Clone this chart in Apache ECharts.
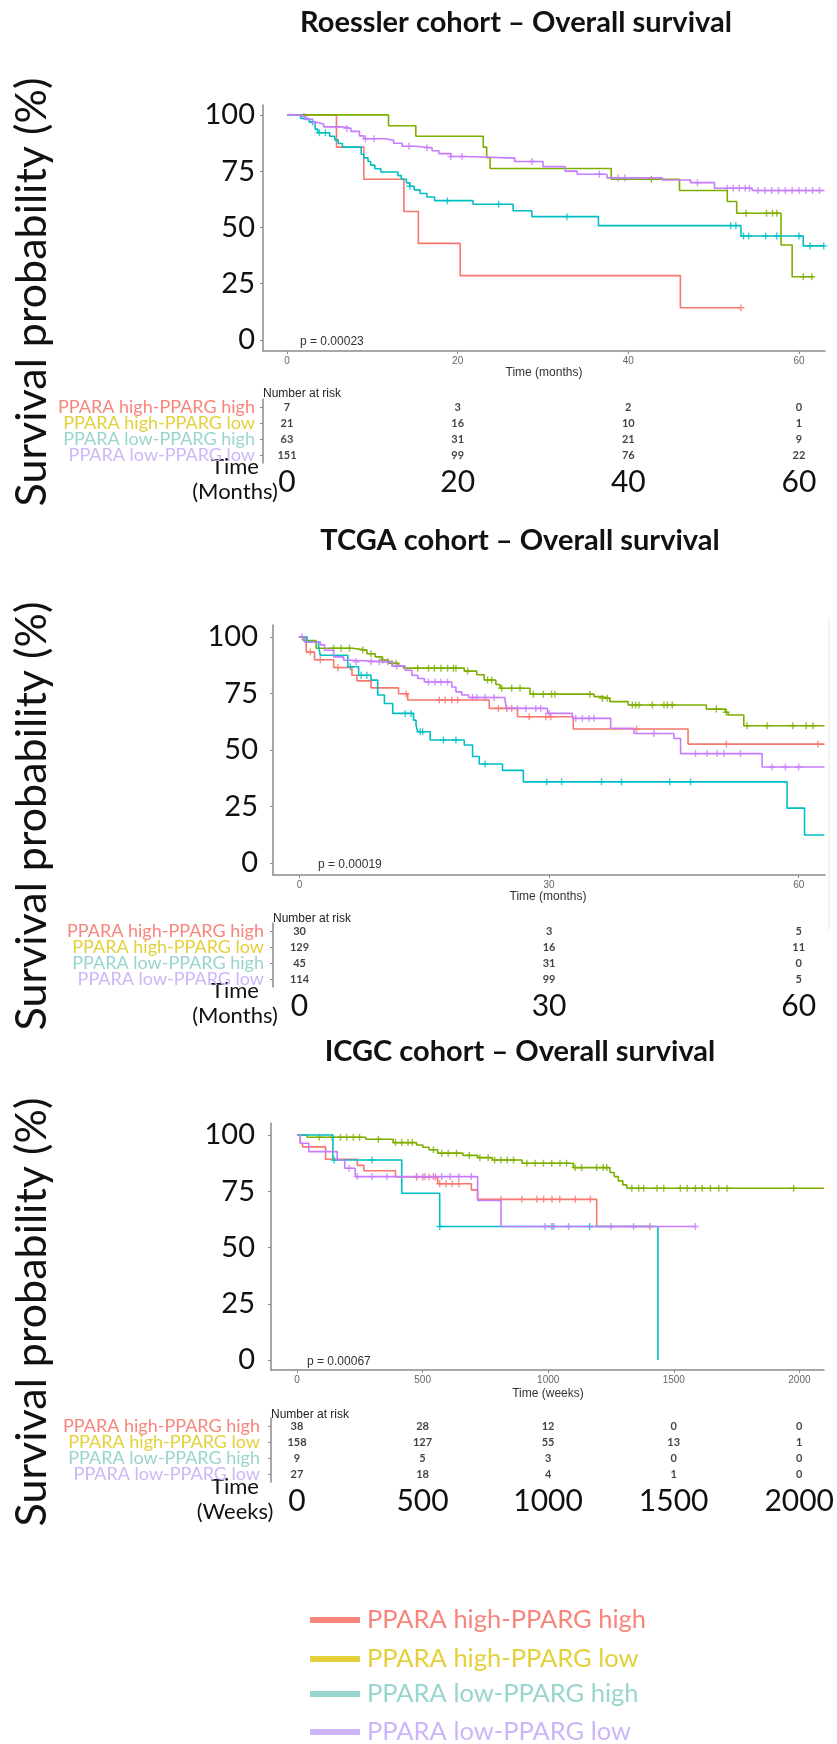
<!DOCTYPE html>
<html>
<head>
<meta charset="utf-8">
<style>
  html, body { margin: 0; padding: 0; background: #fff; }
  #container { width: 837px; height: 1744px; }
</style>
<script src="https://cdn.jsdelivr.net/npm/echarts@6/dist/echarts.min.js"></script>
</head>
<body>
<div id="container"></div>
<script>
var groups = ['PPARA high-PPARG high', 'PPARA high-PPARG low', 'PPARA low-PPARG high', 'PPARA low-PPARG low'];
var lineColors = ['#F8766D', '#7CAE00', '#00BFC4', '#C77CFF'];
var labelColors = ['#F8857C', '#E3D03A', '#98D5CE', '#CDB6F7'];
var survTicks = [0, 25, 50, 75, 100];

// Roessler cohort, months
var roesslerHH = [[0,100],[5.8,85.7],[9.0,71.4],[13.7,57.1],[15.4,42.9],[20.3,28.6],[46.1,14.3],[53.2,14.3]];
var roesslerHHCens = [[53.2,14.3]];
var roesslerHL = [[0,100],[11.9,95.2],[15.1,90.5],[23.0,85.7],[23.4,81.0],[23.8,76.2],[38.0,71.4],[46.0,66.4],[51.6,61.5],[52.7,56.3],[57.9,42.2],[59.2,28.1],[61.7,28.1]];
var roesslerHLCens = [[42.7,71.4],[53.8,56.3],[56.2,56.3],[56.9,56.3],[57.4,56.3],[60.5,28.1],[61.5,28.1]];
var roesslerLH = [[0,100],[1.6,98.4],[2.6,96.8],[3.3,93.7],[3.6,92.1],[5.0,90.5],[5.6,88.9],[6.0,87.3],[6.5,85.7],[8.7,82.5],[9.0,80.9],[9.5,79.3],[9.8,77.7],[10.3,76.1],[11.0,74.6],[13.0,73.0],[13.4,71.4],[14.0,69.8],[14.4,68.3],[14.9,66.7],[15.6,65.1],[16.4,63.5],[17.3,61.9],[21.8,60.3],[26.5,57.4],[28.7,54.8],[36.5,50.8],[53.2,46.2],[60.5,41.8],[63.0,41.8]];
var roesslerLHCens = [[3.0,96.8],[3.8,92.1],[4.5,92.1],[14.4,68.3],[18.8,61.9],[24.8,60.3],[32.8,54.8],[52.0,50.8],[52.6,50.8],[53.5,46.2],[54.1,46.2],[56.1,46.2],[57.4,46.2],[60.0,46.2],[61.3,41.8],[62.9,41.8]];
var roesslerLL = [[0,100],[1.3,99.3],[2.1,98.0],[3.0,96.7],[3.5,96.0],[4.3,94.7],[6.5,94.0],[7.5,92.7],[8.5,90.7],[9.0,89.4],[11.5,88.7],[12.5,87.4],[13.5,86.1],[15.0,85.4],[17.0,84.1],[17.8,82.8],[19.2,81.5],[21.0,80.8],[26.7,79.3],[30.0,77.0],[32.6,75.0],[34.0,73.6],[37.5,72.0],[44.0,71.1],[47.3,69.9],[50.1,67.4],[54.5,66.4],[63.0,66.4]];
var roesslerLLCens = [[2.0,99.3],[5.8,94.7],[7.0,94.0],[9.2,89.4],[10.2,89.4],[14.3,86.1],[16.4,85.4],[19.2,81.5],[20.5,81.5],[28.7,79.3],[36.6,73.6],[38.8,72.0],[39.6,72.0],[48.1,69.9],[51.6,67.4],[52.3,67.4],[53.0,67.4],[53.7,67.4],[54.2,67.4],[55.2,66.4],[56.0,66.4],[56.8,66.4],[57.6,66.4],[58.4,66.4],[59.2,66.4],[60.0,66.4],[60.8,66.4],[61.6,66.4],[62.4,66.4]];
var roesslerTicks = [0, 20, 40, 60];
var roesslerRisk = [[7,3,2,0],[21,16,10,1],[63,31,21,9],[151,99,76,22]];

// TCGA cohort, months
var tcgaHH = [[0,100],[0.8,93.3],[1.8,89.9],[4.1,86.5],[6.3,83.1],[6.9,80.6],[8.6,77.5],[11.9,74.9],[13.0,72.1],[22.8,68.4],[26.2,64.7],[32.9,59.3],[46.7,52.6],[63.1,52.6]];
var tcgaHHCens = [[1.3,93.3],[2.5,89.9],[4.6,86.5],[12.8,74.9],[16.8,72.1],[17.5,72.1],[18.3,72.1],[19.0,72.1],[23.9,68.4],[24.9,68.4],[25.5,68.4],[27.6,64.7],[29.6,64.7],[30.2,64.7],[40.5,59.3],[51.3,52.6],[62.3,52.6]];
var tcgaHL = [[0,100],[0.5,98.4],[2.0,95.0],[6.3,94.2],[8.1,92.6],[9.1,91.2],[9.9,89.8],[10.7,88.4],[11.9,87.2],[12.5,86.2],[19.8,84.9],[21.3,83.3],[22.2,81.0],[23.6,79.0],[24.1,77.3],[27.7,74.7],[35.4,73.6],[36.2,72.9],[37.3,71.4],[39.5,69.9],[48.9,68.1],[51.2,66.7],[51.5,65.5],[53.4,60.7],[63.1,60.7]];
var tcgaHLCens = [[4.1,95.0],[5.0,95.0],[6.0,95.0],[7.6,94.2],[8.6,92.6],[10.0,89.8],[11.1,88.4],[11.6,88.4],[14.2,86.2],[15.5,86.2],[16.2,86.2],[17.0,86.2],[17.8,86.2],[18.5,86.2],[18.8,86.2],[20.2,84.9],[22.6,81.0],[23.1,81.0],[24.3,77.3],[25.5,77.3],[26.5,77.3],[28.1,74.7],[29.3,74.7],[30.3,74.7],[30.7,74.7],[34.9,74.7],[36.4,72.9],[37.0,72.9],[40.0,69.9],[40.4,69.9],[40.8,69.9],[42.4,69.9],[43.8,69.9],[44.2,69.9],[44.8,69.9],[50.1,68.1],[51.3,66.7],[53.8,60.7],[56.2,60.7],[59.3,60.7],[60.9,60.7],[61.7,60.7]];
var tcgaLH = [[0,100],[0.9,97.8],[2.3,95.6],[2.5,91.9],[5.8,86.8],[7.1,83.1],[8.6,80.9],[9.4,74.3],[10.2,70.6],[11.2,66.2],[13.7,63.2],[14.0,61.0],[14.2,58.1],[15.7,54.4],[19.8,52.2],[20.8,47.1],[21.6,43.8],[24.4,41.0],[26.9,35.9],[58.6,24.3],[60.7,12.4],[63.1,12.4]];
var tcgaLHCens = [[6.1,86.8],[7.4,83.1],[8.1,83.1],[12.7,66.2],[13.4,66.2],[14.5,58.1],[14.8,58.1],[17.3,54.4],[18.8,54.4],[22.3,43.8],[29.7,35.9],[31.5,35.9],[36.3,35.9],[38.7,35.9],[44.5,35.9],[47.0,35.9]];
var tcgaLL = [[0,100],[0.6,97.8],[2.5,96.5],[3.0,94.1],[4.1,91.2],[5.3,89.7],[6.0,89.0],[11.2,87.1],[12.7,85.3],[13.5,83.1],[14.2,81.6],[15.0,80.1],[18.3,77.9],[18.8,75.7],[19.5,74.3],[20.3,73.2],[24.7,71.7],[24.9,68.4],[29.8,66.2],[32.8,64.0],[37.4,59.6],[40.2,57.3],[45.0,55.1],[45.8,48.4],[55.6,42.5],[63.1,42.5]];
var tcgaLLCens = [[0.3,100],[6.8,89.0],[8.6,89.0],[9.6,89.0],[10.6,89.0],[11.7,87.1],[15.5,80.1],[16.3,80.1],[17.0,80.1],[17.8,80.1],[20.8,73.2],[21.3,73.2],[22.3,73.2],[23.4,73.2],[26.2,68.4],[27.2,68.4],[28.4,68.4],[29.0,68.4],[30.0,66.2],[33.2,64.0],[34.0,64.0],[34.8,64.0],[35.4,64.0],[42.6,57.3],[47.6,48.4],[49.0,48.4],[50.2,48.4],[51.0,48.4],[53.0,48.4],[56.8,42.5],[58.4,42.5],[60.0,42.5]];
var tcgaTicks = [0, 30, 60];
var tcgaRisk = [[30,3,5],[129,16,11],[45,31,0],[114,99,5]];

// ICGC cohort, weeks
var icgcHH = [[0,100],[13,96.3],[22,94.7],[114,89.2],[240,86.5],[266,84.1],[392,81.3],[560,78.3],[694,75.6],[719,71.4],[1193,59.3],[1405,59.3]];
var icgcHHCens = [[476,81.3],[501,81.3],[526,81.3],[551,81.3],[568,78.3],[593,78.3],[618,78.3],[644,78.3],[812,71.4],[895,71.4],[955,71.4],[982,71.4],[1015,71.4],[1046,71.4],[1108,71.4],[1168,71.4],[1405,59.3]];
var icgcHL = [[0,100],[40,99.0],[274,98.1],[383,96.6],[476,95.5],[501,94.5],[526,93.4],[560,91.9],[661,90.9],[719,89.9],[778,88.9],[896,87.4],[1100,85.5],[1246,83.3],[1263,81.5],[1279,79.6],[1297,77.8],[1313,76.3],[2098,76.3]];
var icgcHLCens = [[89,99.0],[140,99.0],[173,99.0],[198,99.0],[224,99.0],[249,99.0],[324,98.1],[392,96.6],[417,96.6],[442,96.6],[459,96.6],[543,93.4],[576,91.9],[602,91.9],[635,91.9],[686,90.9],[728,89.9],[761,89.9],[787,88.9],[812,88.9],[837,88.9],[862,88.9],[915,87.4],[948,87.4],[981,87.4],[1014,87.4],[1047,87.4],[1073,87.4],[1107,85.5],[1133,85.5],[1193,85.5],[1219,85.5],[1233,85.5],[1333,76.3],[1360,76.3],[1380,76.3],[1433,76.3],[1460,76.3],[1526,76.3],[1553,76.3],[1586,76.3],[1613,76.3],[1646,76.3],[1679,76.3],[1712,76.3],[1977,76.3]];
var icgcLH = [[0,100],[143,88.9],[417,74.1],[568,59.3],[1437,0]];
var icgcLHCens = [[148,88.9],[299,88.9],[568,59.3],[1015,59.3],[1165,59.3]];
var icgcLL = [[0,100],[13,96.3],[47,92.6],[160,88.9],[190,85.2],[232,81.5],[719,70.9],[812,59.3],[1586,59.3]];
var icgcLLCens = [[207,85.2],[240,81.5],[299,81.5],[358,81.5],[476,81.5],[509,81.5],[543,81.5],[576,81.5],[610,81.5],[644,81.5],[694,81.5],[988,59.3],[1022,59.3],[1081,59.3],[1250,59.3],[1340,59.3],[1586,59.3]];
var icgcTicks = [0, 500, 1000, 1500, 2000];
var icgcRisk = [[38,28,12,0,0],[158,127,55,13,1],[9,5,3,0,0],[27,18,4,1,0]];

// layout of the three panels (pixels / axis ranges)
var panels = [
  { curves: [roesslerHH, roesslerHL, roesslerLH, roesslerLL], cens: [roesslerHHCens, roesslerHLCens, roesslerLHCens, roesslerLLCens],
    ticks: roesslerTicks, risk: roesslerRisk, xMin: -2.81, xMax: 63.05, yMin: -4.9, yMax: 104.4,
    left: 263, right: 12, top: 105, height: 246, yMargin: 8, tTop: 399, gMargin: 8 },
  { curves: [tcgaHH, tcgaHL, tcgaLH, tcgaLL], cens: [tcgaHHCens, tcgaHLCens, tcgaLHCens, tcgaLLCens],
    ticks: tcgaTicks, risk: tcgaRisk, xMin: -3.19, xMax: 63.16, yMin: -5.3, yMax: 105.3,
    left: 273, right: 12, top: 625, height: 250, yMargin: 15, tTop: 923, gMargin: 9 },
  { curves: [icgcHH, icgcHL, icgcLH, icgcLL], cens: [icgcHHCens, icgcHLCens, icgcLHCens, icgcLLCens],
    ticks: icgcTicks, risk: icgcRisk, xMin: -103.5, xMax: 2098, yMin: -4.4, yMax: 105.3,
    left: 271, right: 13, top: 1123, height: 247, yMargin: 16, tTop: 1418, gMargin: 11 }
];

var axisGray = '#8a8a8a';
var plus = 'path://M4,0H6V4H10V6H6V10H4V6H0V4H4Z';
var plain = function (v) { return String(v); };

var grid = [], xAxis = [], yAxis = [], series = [];
var rich = {};
groups.forEach(function (g, i) {
  rich['g' + i] = { color: labelColors[i], fontSize: 18, fontFamily: 'Lato', lineHeight: 16 };
});

panels.forEach(function (p, k) {
  var gi = k * 2, ti = k * 2 + 1;
  grid.push({ left: p.left, right: p.right, top: p.top, height: p.height });
  grid.push({ left: p.left, right: p.right, top: p.tTop, height: 64 });

  xAxis.push({
    gridIndex: gi, type: 'value', min: p.xMin, max: p.xMax,
    axisLine: { onZero: false, lineStyle: { color: axisGray, width: 1.5 } },
    axisTick: { customValues: p.ticks, length: 3, lineStyle: { color: axisGray } },
    axisLabel: { customValues: p.ticks, formatter: plain, fontSize: 10, color: '#666', margin: 5, fontFamily: 'Liberation Sans' },
    splitLine: { show: false }
  });
  yAxis.push({
    gridIndex: gi, type: 'value', min: p.yMin, max: p.yMax,
    axisLine: { show: true, onZero: false, lineStyle: { color: axisGray, width: 1.5 } },
    axisTick: { show: true, customValues: survTicks, length: 3, lineStyle: { color: axisGray } },
    axisLabel: { customValues: survTicks, formatter: plain, fontSize: 29, color: '#111', margin: p.yMargin, fontFamily: 'Lato' },
    splitLine: { show: false }
  });
  xAxis.push({
    gridIndex: ti, type: 'value', min: p.xMin, max: p.xMax,
    axisLine: { onZero: false, lineStyle: { color: axisGray, width: 1.5 } },
    axisTick: { customValues: p.ticks, length: 3, lineStyle: { color: axisGray } },
    axisLabel: { customValues: p.ticks, formatter: plain, fontSize: 30, color: '#111', margin: 4, fontFamily: 'Lato' },
    splitLine: { show: false }
  });
  yAxis.push({
    gridIndex: ti, type: 'category', data: groups, inverse: true,
    axisLine: { show: true, onZero: false, lineStyle: { color: axisGray, width: 1.5 } },
    axisTick: { show: true, alignWithLabel: true, interval: 0, length: 3, lineStyle: { color: axisGray } },
    axisLabel: {
      interval: 0, margin: p.gMargin, rich: rich,
      formatter: function (v, i) { return '{g' + i + '|' + v + '}'; }
    }
  });

  p.curves.forEach(function (c, i) {
    series.push({
      type: 'line', xAxisIndex: gi, yAxisIndex: gi, step: 'end', data: c,
      showSymbol: false, lineStyle: { color: lineColors[i], width: 1.6 }, silent: true
    });
  });
  p.cens.forEach(function (c, i) {
    series.push({
      type: 'scatter', xAxisIndex: gi, yAxisIndex: gi, data: c,
      symbol: plus, symbolSize: 7, itemStyle: { color: lineColors[i] }, silent: true
    });
  });
  var cells = [];
  p.risk.forEach(function (row, r) {
    row.forEach(function (n, c) { cells.push([p.ticks[c], r, n]); });
  });
  series.push({
    type: 'scatter', xAxisIndex: ti, yAxisIndex: ti, data: cells,
    symbolSize: 1, itemStyle: { color: 'rgba(0,0,0,0)' }, silent: true,
    label: {
      show: true, position: 'inside', color: '#111', fontSize: 11, fontWeight: 'bold', fontFamily: 'Lato',
      formatter: function (d) { return d.value[2]; }
    }
  });
});

function txt(x, y, s, size, color, extra) {
  var el = {
    type: 'text', x: x, y: y, silent: true,
    style: {
      text: s, fontSize: size, fontFamily: 'Lato', fill: color,
      textAlign: 'left', textVerticalAlign: 'middle', align: 'left', verticalAlign: 'middle'
    }
  };
  if (extra) {
    for (var key in extra) {
      if (key === 'rotation') el.rotation = extra[key];
      else el.style[key] = extra[key];
    }
  }
  el.style.align = el.style.textAlign;
  return el;
}

var titles = ['Roessler cohort \u2013 Overall survival', 'TCGA cohort \u2013 Overall survival', 'ICGC cohort \u2013 Overall survival'];
var titleY = [23, 541, 1052];
var titleX = [516, 520, 520];
var pTexts = ['p = 0.00023', 'p = 0.00019', 'p = 0.00067'];
var pPos = [[300, 342], [318, 865], [307, 1362]];
var xNames = ['Time (months)', 'Time (months)', 'Time (weeks)'];
var xNamePos = [[544, 373], [548, 897], [548, 1394]];
var riskTitleY = [394, 919, 1415];
var unitNames = ['(Months)', '(Months)', '(Weeks)'];
var unitY = [467, 991, 1487];
var rotY = [292, 816, 1312];

var graphic = [];
for (var k = 0; k < 3; k++) {
  graphic.push(txt(titleX[k], titleY[k], titles[k], 29, '#111', { textAlign: 'center', fontWeight: 'bold' }));
  graphic.push(txt(32, rotY[k], 'Survival probability (%)', 43, '#111', { textAlign: 'center', rotation: Math.PI / 2 }));
  graphic.push(txt(pPos[k][0], pPos[k][1], pTexts[k], 12, '#333', { fontFamily: 'Liberation Sans' }));
  graphic.push(txt(xNamePos[k][0], xNamePos[k][1], xNames[k], 12, '#333', { textAlign: 'center', fontFamily: 'Liberation Sans' }));
  graphic.push(txt(panels[k].left, riskTitleY[k], 'Number at risk', 12, '#222', { fontFamily: 'Liberation Sans' }));
  graphic.push(txt(235, unitY[k], 'Time', 22, '#111', { textAlign: 'center' }));
  graphic.push(txt(235, unitY[k] + 25, unitNames[k], 22, '#111', { textAlign: 'center' }));
}
// faint edge line at right of the TCGA panel
graphic.push({ type: 'line', silent: true, shape: { x1: 829, y1: 618, x2: 829, y2: 930 }, style: { stroke: '#e6e6e6', lineWidth: 1 } });

var legendY = [1620, 1659, 1694, 1732];
groups.forEach(function (g, i) {
  graphic.push({ type: 'rect', silent: true, shape: { x: 310, y: legendY[i] - 3, width: 50, height: 6 }, style: { fill: labelColors[i] } });
  graphic.push(txt(367, legendY[i], g, 25.5, labelColors[i]));
});

var dom = document.getElementById('container');
var myChart = echarts.init(dom, null, { renderer: 'canvas' });
var option = {
  backgroundColor: '#fff',
  animation: false,
  grid: grid,
  xAxis: xAxis,
  yAxis: yAxis,
  series: series,
  graphic: graphic
};
myChart.setOption(option, true);
</script>
</body>
</html>
